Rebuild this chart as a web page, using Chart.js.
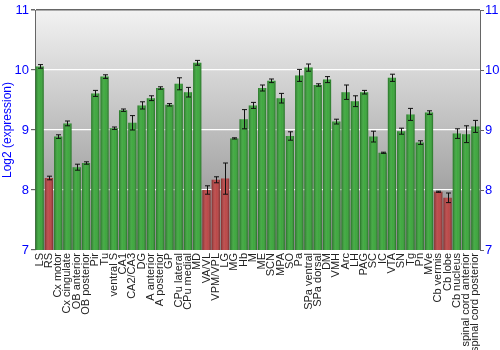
<!DOCTYPE html>
<html>
<head>
<meta charset="utf-8">
<script src="https://cdn.jsdelivr.net/npm/chart.js@4/dist/chart.umd.min.js"></script>
<style>
  html, body { margin: 0; padding: 0; background: #fff; }
  #wrap { width: 500px; height: 350px; }
</style>
</head>
<body>
<div id="wrap"><canvas id="chart" width="500" height="350"></canvas></div>
<script>
const regions = [
  'LS', 'RS', 'Cx motor', 'Cx cingulate', 'OB anterior', 'OB posterior', 'Pir', 'Tu',
  'ventral S', 'CA1', 'CA2/CA3', 'DG', 'A anterior', 'A posterior', 'GP', 'CPu lateral',
  'CPu medial', 'MD', 'VA/VL', 'VPM/VPL', 'LG', 'MG', 'Hb', 'M', 'ME', 'SCN', 'MPA', 'SO',
  'Pa', 'SPa ventral', 'SPa dorsal', 'DM', 'VMH', 'Arc', 'LH', 'PAG', 'SC', 'IC', 'VTA',
  'SN', 'Tg', 'Pn', 'MVe', 'Cb vermis', 'Cb lobe', 'Cb nucleus', 'spinal cord anterior',
  'spinal cord posterior',
];
const expression = [
  10.06, 8.20, 8.89, 9.11, 8.38, 8.45, 9.61, 9.89,
  9.03, 9.33, 9.12, 9.41, 9.53, 9.70, 9.42, 9.77,
  9.63, 10.12, 8.00, 8.17, 8.19, 8.86, 9.18, 9.41, 9.70, 9.82, 9.53, 8.90,
  9.91, 10.04, 9.75, 9.84, 9.14, 9.63, 9.48, 9.63, 8.89, 8.62, 9.87,
  8.98, 9.26, 8.79, 9.29, 7.97, 7.87, 8.94, 8.93,
  9.06,
];
const errors = [
  0.03, 0.03, 0.03, 0.04, 0.05, 0.02, 0.05, 0.03,
  0.02, 0.02, 0.12, 0.06, 0.04, 0.02, 0.02, 0.10,
  0.08, 0.04, 0.07, 0.05, 0.26, 0.01, 0.16, 0.05, 0.05, 0.03, 0.08, 0.07,
  0.10, 0.06, 0.02, 0.05, 0.04, 0.12, 0.09, 0.03, 0.09, 0.01, 0.06,
  0.05, 0.10, 0.03, 0.03, 0.01, 0.08, 0.08, 0.14,
  0.10,
];
const lowRegions = ['RS', 'VA/VL', 'VPM/VPL', 'LG', 'Cb vermis', 'Cb lobe'];
const yTicks = [7, 8, 9, 10, 11];

const barColors = regions.map((r) => (lowRegions.includes(r) ? '#b83e3e' : '#33a333'));

const plotBackground = {
  id: 'plotBackground',
  beforeDatasetsDraw(chart) {
    const { ctx, chartArea } = chart;
    const g = ctx.createLinearGradient(0, chartArea.top, 0, chartArea.bottom);
    g.addColorStop(0, '#f2f2f2');
    g.addColorStop(1, '#888888');
    ctx.save();
    ctx.globalCompositeOperation = 'destination-over';
    ctx.fillStyle = g;
    ctx.fillRect(chartArea.left, chartArea.top, chartArea.right - chartArea.left, chartArea.bottom - chartArea.top);
    ctx.restore();
  },
};

const barShading = {
  id: 'barShading',
  afterDatasetsDraw(chart) {
    const { ctx, chartArea } = chart;
    const meta = chart.getDatasetMeta(0);
    const y = chart.scales.y;
    ctx.save();
    ctx.beginPath();
    ctx.rect(chartArea.left, chartArea.top, chartArea.right - chartArea.left, chartArea.bottom - chartArea.top);
    ctx.clip();
    meta.data.forEach((bar, i) => {
      const left = bar.x - bar.width / 2;
      const g = ctx.createLinearGradient(left, 0, left + bar.width, 0);
      g.addColorStop(0, 'rgba(0,0,0,0.30)');
      g.addColorStop(0.45, 'rgba(255,255,255,0.10)');
      g.addColorStop(0.6, 'rgba(255,255,255,0.06)');
      g.addColorStop(1, 'rgba(0,0,0,0.32)');
      ctx.fillStyle = g;
      ctx.fillRect(left, bar.y, bar.width, chartArea.bottom - bar.y);

      // error bar
      const hi = y.getPixelForValue(expression[i] + errors[i]);
      const lo = y.getPixelForValue(expression[i] - errors[i]);
      ctx.strokeStyle = '#111';
      ctx.lineWidth = 1;
      const cx = Math.round(bar.x) + 0.5;
      ctx.beginPath();
      ctx.moveTo(cx, hi);
      ctx.lineTo(cx, lo);
      ctx.moveTo(cx - 2.5, hi);
      ctx.lineTo(cx + 2.5, hi);
      ctx.moveTo(cx - 2.5, lo);
      ctx.lineTo(cx + 2.5, lo);
      ctx.stroke();
    });
    ctx.restore();
  },
};

new Chart(document.getElementById('chart'), {
  type: 'bar',
  data: {
    labels: regions,
    datasets: [
      {
        data: expression,
        backgroundColor: barColors,
        borderWidth: 0,
        barPercentage: 0.88,
        categoryPercentage: 1,
      },
    ],
  },
  options: {
    responsive: false,
    animation: false,
    layout: { padding: { top: 10, left: 0, right: 0, bottom: 0 } },
    plugins: { legend: { display: false }, tooltip: { enabled: false } },
    scales: {
      x: {
        grid: { display: false, drawOnChartArea: false, drawTicks: false },
        border: { display: false },
        ticks: {
          autoSkip: false,
          maxRotation: 90,
          minRotation: 90,
          padding: 3,
          color: '#222',
          font: { family: 'Liberation Sans, Arial, sans-serif', size: 11 },
        },
        afterFit(scale) { scale.height = 100; },
      },
      y: {
        position: 'left',
        min: 7,
        max: 11,
        afterBuildTicks(scale) { scale.ticks = yTicks.map((v) => ({ value: v })); },
        grid: {
          color: (c) => (c.tick.value === 11 ? '#666' : (c.tick.value === 7 ? 'rgba(0,0,0,0)' : '#ffffff')),
          tickColor: '#666',
          tickLength: 4,
          lineWidth: (c) => (c.tick.value === 11 ? 1.5 : 1.2),
        },
        border: { display: true, color: '#666', width: 1 },
        ticks: {
          color: '#0000ff',
          padding: 2,
          font: { family: 'Liberation Sans, Arial, sans-serif', size: 13 },
        },
        title: {
          display: true,
          text: 'Log2 (expression)',
          color: '#0000ff',
          padding: { top: 0, bottom: 2 },
          font: { family: 'Liberation Sans, Arial, sans-serif', size: 12 },
        },
        afterFit(scale) { scale.width = 35; },
      },
      y2: {
        position: 'right',
        min: 7,
        max: 11,
        afterBuildTicks(scale) { scale.ticks = yTicks.map((v) => ({ value: v })); },
        grid: { drawOnChartArea: false, tickColor: '#666', tickLength: 4 },
        border: { display: true, color: '#666', width: 1 },
        ticks: {
          color: '#0000ff',
          padding: 1,
          font: { family: 'Liberation Sans, Arial, sans-serif', size: 13 },
        },
        afterFit(scale) { scale.width = 20; },
      },
    },
  },
  plugins: [plotBackground, barShading],
});
</script>
</body>
</html>
